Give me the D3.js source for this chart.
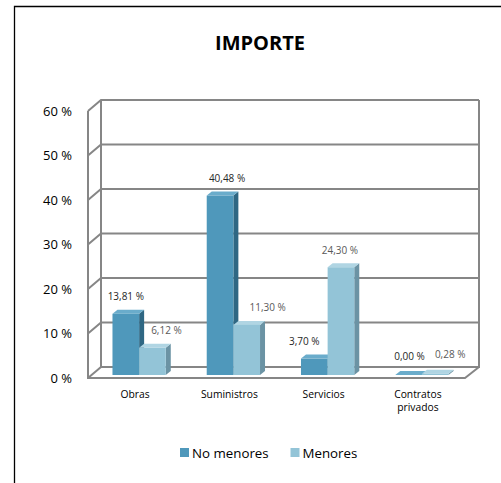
<!DOCTYPE html>
<html><head><meta charset="utf-8">
<script src="https://cdn.jsdelivr.net/npm/d3@7/dist/d3.min.js"></script>
<style>
html,body{margin:0;padding:0;background:#fff;}
svg{display:block;}
text{font-family:"Open Sans","Noto Sans",sans-serif;}
</style></head>
<body>
<script>
const categories = ["Obras", "Suministros", "Servicios", "Contratos privados"];
const seriesNames = ["No menores", "Menores"];
const noMenores = [13.81, 40.48, 3.70, 0.00];
const menores = [6.12, 11.30, 24.30, 0.28];
const tickValues = [0, 10, 20, 30, 40, 50, 60];
const title = "IMPORTE";

// layout (not data)
const labelNudge = [[[0,0],[14,0]],[[7,0],[21,0]],[[-10,0],[-1,0]],[[1,-2],[15,-2]]];

const W = 501, H = 483;
const svg = d3.select("body").append("svg").attr("width", W).attr("height", H);

// outer frame
svg.append("path").attr("d", `M14.5,${H} V6.5 H${W}`).attr("fill","none").attr("stroke","#000").attr("stroke-width",1.3);

svg.append("text").attr("x", 260).attr("y", 50).attr("text-anchor","middle")
  .attr("font-size", 20).attr("font-weight","bold").attr("fill","#000").text(title);

const frontL = 88, frontR = 465, frontB = 378;
const depX = 13, depY = -11;
const yFront = d3.scaleLinear().domain([0,60]).range([frontB, frontB - 267]);
const yBack = v => yFront(v) + depY;
const yBar = d3.scaleLinear().domain([0,60]).range([375, 375-266]);

const x = d3.scaleBand().domain(categories).range([frontL, frontR]);
const groupW = 53.3;
const barShift = 4;
const xs = d3.scaleBand().domain(seriesNames).range([0, groupW]);

const grid = svg.append("g").attr("fill","none").attr("stroke","#868686").attr("stroke-width",2);
tickValues.forEach(v => {
  if (v > 0) {
    grid.append("path").attr("d", `M${frontL},${yFront(v)} L${frontL+depX},${yBack(v)} H${frontR+depX+1}`);
  }
});
grid.append("path").attr("d", `M${frontL+depX},${yBack(60)} V${yBack(0)} H${frontR+depX+1} V${yBack(60)}`);
grid.append("path").attr("d", `M${frontL},${yFront(60)} V${frontB} H${frontR} L${frontR+depX+1},${yBack(0)}`);
grid.append("path").attr("d", `M${frontL},${frontB} L${frontL+depX},${yBack(0)}`);

// y axis labels
svg.append("g").selectAll("text").data(tickValues).join("text")
  .attr("x", 72).attr("y", d => yFront(d)).attr("dy","0.35em")
  .attr("text-anchor","end").attr("font-size", 13).attr("fill","#000")
  .text(d => d + " %");

// bars
const colors = {
  "No menores": {front:"#4f98bb", side:"#2f6783", top:"#6aaccb"},
  "Menores": {front:"#93c4d7", side:"#6b93a4", top:"#b0d5e3"}
};
const bd = 5, bdy = -4;
const bars = [];
categories.forEach((c,i) => {
  [noMenores[i], menores[i]].forEach((v,j) => {
    bars.push({c, s: seriesNames[j], v, i, j});
  });
});
const bg = svg.append("g");
bars.forEach(b => {
  const x0 = x(b.c) + (x.bandwidth()-groupW)/2 + barShift + xs(b.s);
  const x1 = x0 + xs.bandwidth();
  const yt = yBar(b.v), yb = yBar(0);
  const col = colors[b.s];
  bg.append("path").attr("d", `M${x1},${yb} L${x1+bd},${yb+bdy} L${x1+bd},${yt+bdy} L${x1},${yt} Z`).attr("fill", col.side);
  bg.append("path").attr("d", `M${x0},${yt} L${x0+bd},${yt+bdy} L${x1+bd},${yt+bdy} L${x1},${yt} Z`).attr("fill", col.top);
  bg.append("rect").attr("x", x0).attr("y", yt).attr("width", x1-x0).attr("height", Math.max(0, yb-yt)).attr("fill", col.front);
});

// value labels
const fmt = v => v.toFixed(2).replace(".", ",") + " %";
svg.append("g").selectAll("text").data(bars).join("text")
  .attr("x", b => x(b.c) + (x.bandwidth()-groupW)/2 + barShift + xs(b.s) + xs.bandwidth()/2 + labelNudge[b.i][b.j][0])
  .attr("y", b => yBar(b.v) - 17 + labelNudge[b.i][b.j][1]).attr("dy","0.35em")
  .attr("text-anchor","middle").attr("font-size", 10)
  .attr("fill", b => b.j === 0 ? "#262626" : "#595959")
  .text(b => fmt(b.v));

// category labels
const cg = svg.append("g");
categories.forEach(c => {
  const words = c.split(" ");
  words.forEach((w,k) => {
    cg.append("text").attr("x", x(c) + x.bandwidth()/2).attr("y", 394 + k*13.5).attr("dy","0.35em")
      .attr("text-anchor","middle").attr("font-size", 10.3).attr("fill","#000").text(w);
  });
});

// legend
const lg = svg.append("g");
const legendX = [180, 290.5];
seriesNames.forEach((s,k) => {
  lg.append("rect").attr("x", legendX[k]).attr("y", 448).attr("width", 9).attr("height", 9).attr("fill", colors[s].front);
  lg.append("text").attr("x", legendX[k] + 12).attr("y", 453).attr("dy","0.35em")
    .attr("font-size", 13.3).attr("fill","#000").text(s);
});
</script>
</body></html>
